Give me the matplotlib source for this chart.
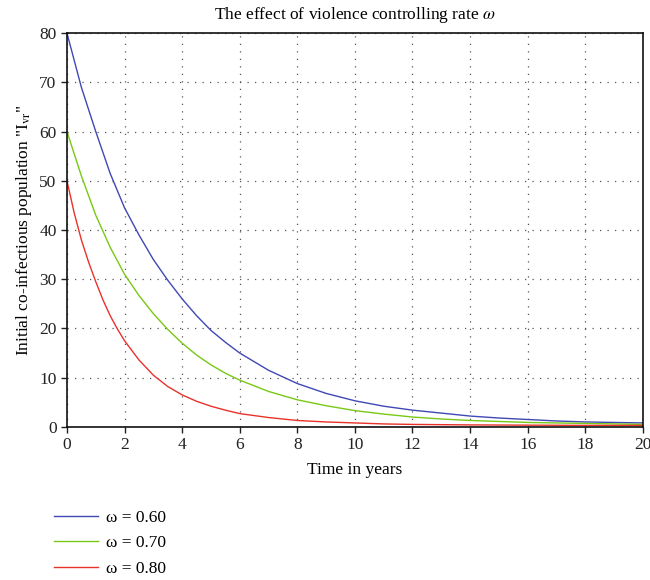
import numpy as np
import matplotlib.pyplot as plt

# --- datos -------------------------------------------------------------------
t_blue = [0, 0.5, 1, 1.5, 2, 2.5, 3, 3.5, 4, 4.5, 5, 5.5, 6, 7, 8, 9, 10, 11,
          12, 13, 14, 15, 16, 17, 18, 19, 20]
blue = [80, 69, 60, 51.5, 44.5, 39, 34, 29.8, 26, 22.6, 19.6, 17.2, 15, 11.5,
        8.8, 6.8, 5.3, 4.2, 3.4, 2.8, 2.2, 1.8, 1.5, 1.2, 1.0, 0.9, 0.8]

t_green = [0, 0.5, 1, 1.5, 2, 2.5, 3, 3.5, 4, 4.5, 5, 5.5, 6, 7, 8, 9, 10, 11,
           12, 13, 14, 15, 16, 17, 18, 19, 20]
green = [60, 51, 43, 36.5, 31, 26.7, 23, 19.8, 17, 14.6, 12.6, 10.9, 9.5, 7.2,
         5.5, 4.3, 3.3, 2.6, 2.0, 1.6, 1.3, 1.1, 0.9, 0.8, 0.7, 0.6, 0.5]

t_red = [0, 0.25, 0.5, 0.75, 1, 1.25, 1.5, 1.75, 2, 2.5, 3, 3.5, 4, 4.5, 5,
         5.5, 6, 7, 8, 9, 10, 11, 12, 14, 16, 18, 20]
red = [50, 43.5, 38, 33.5, 29.5, 25.8, 22.6, 19.9, 17.5, 13.6, 10.5, 8.2, 6.5,
       5.2, 4.2, 3.4, 2.7, 1.9, 1.3, 1.0, 0.8, 0.6, 0.5, 0.4, 0.35, 0.3, 0.3]

labels = ["ω = 0.60", "ω = 0.70", "ω = 0.80"]
colores = ["#4048b4", "#78c814", "#e8322a"]

plt.rcParams["font.family"] = ["Liberation Serif", "DejaVu Serif"]
plt.rcParams["mathtext.fontset"] = "stix"

fig = plt.figure(figsize=(6.5, 5.8), dpi=100)
ax = fig.add_axes([0.103, 0.264, 0.886, 0.679])

for t, y, lab, c in zip([t_blue, t_green, t_red], [blue, green, red], labels, colores):
    ax.plot(t, y, color=c, linewidth=1.0, label=lab)

ax.set_xlim(0, 20)
ax.set_ylim(0, 80)
ax.set_xticks(np.arange(0, 21, 2))
ax.set_yticks(np.arange(0, 81, 10))
ax.grid(True, color="#555555", linestyle=(0, (1, 5)), linewidth=0.9)
ax.tick_params(direction="out", length=4, width=1, labelsize=12.5, colors="#222222")
for s in ax.spines.values():
    s.set_linewidth(1.2)
    s.set_color("#111111")

ax.set_title("The effect of violence controlling rate $\\omega$", fontsize=12.5, pad=10)
ax.set_xlabel("Time in years", fontsize=12.5, labelpad=6)
ax.set_ylabel('Initial co-infectious population "I$_{\\mathrm{vr}}$"', fontsize=12.5, labelpad=4)

ax.legend(loc="upper left", bbox_to_anchor=(-0.049, -0.17), frameon=False,
          fontsize=12.5, handlelength=2.5, handletextpad=0.45, labelspacing=0.55)

fig.savefig("out.png", dpi=100)
